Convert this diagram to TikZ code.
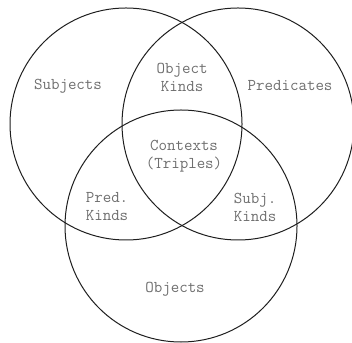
\documentclass[tikz,border=0pt]{standalone}
\usepackage{xcolor}
\definecolor{labelgray}{HTML}{6E6E6E}
\definecolor{ringgray}{HTML}{1E1E1E}
\begin{document}
\begin{tikzpicture}[
      x=1pt, y=1pt,
      every node/.style={font=\ttfamily\fontsize{16.5}{18}\selectfont},
      ring/.style={circle, draw=ringgray, line width=1pt,
                  minimum size=232pt, inner sep=0pt, outer sep=0pt},
      lbl/.style={text=labelgray, align=center, inner sep=0pt},
    ]
    \useasboundingbox (0,0) rectangle (352,342);
    % the three sets
    \node[ring] (subj) at (126, 218) {};
    \node[ring] (pred) at (238, 218) {};
    \node[ring] (obj)  at (181, 116) {};

    % labels
    \node[lbl] (lsubj) at (68, 256)  {Subjects};
    \node[lbl] (lpred) at (290, 256) {Predicates};
    \node[lbl] (lobj)  at (175, 53)  {Objects};
    \node[lbl] (lok)   at (182, 265) {Object\\Kinds};
    \node[lbl] (lctx)  at (184, 186) {Contexts\\(Triples)};
    \node[lbl] (lpk)   at (107, 135) {Pred.\\Kinds};
    \node[lbl] (lsk)   at (255, 135) {Subj.\\Kinds};
  \end{tikzpicture}
\end{document}
